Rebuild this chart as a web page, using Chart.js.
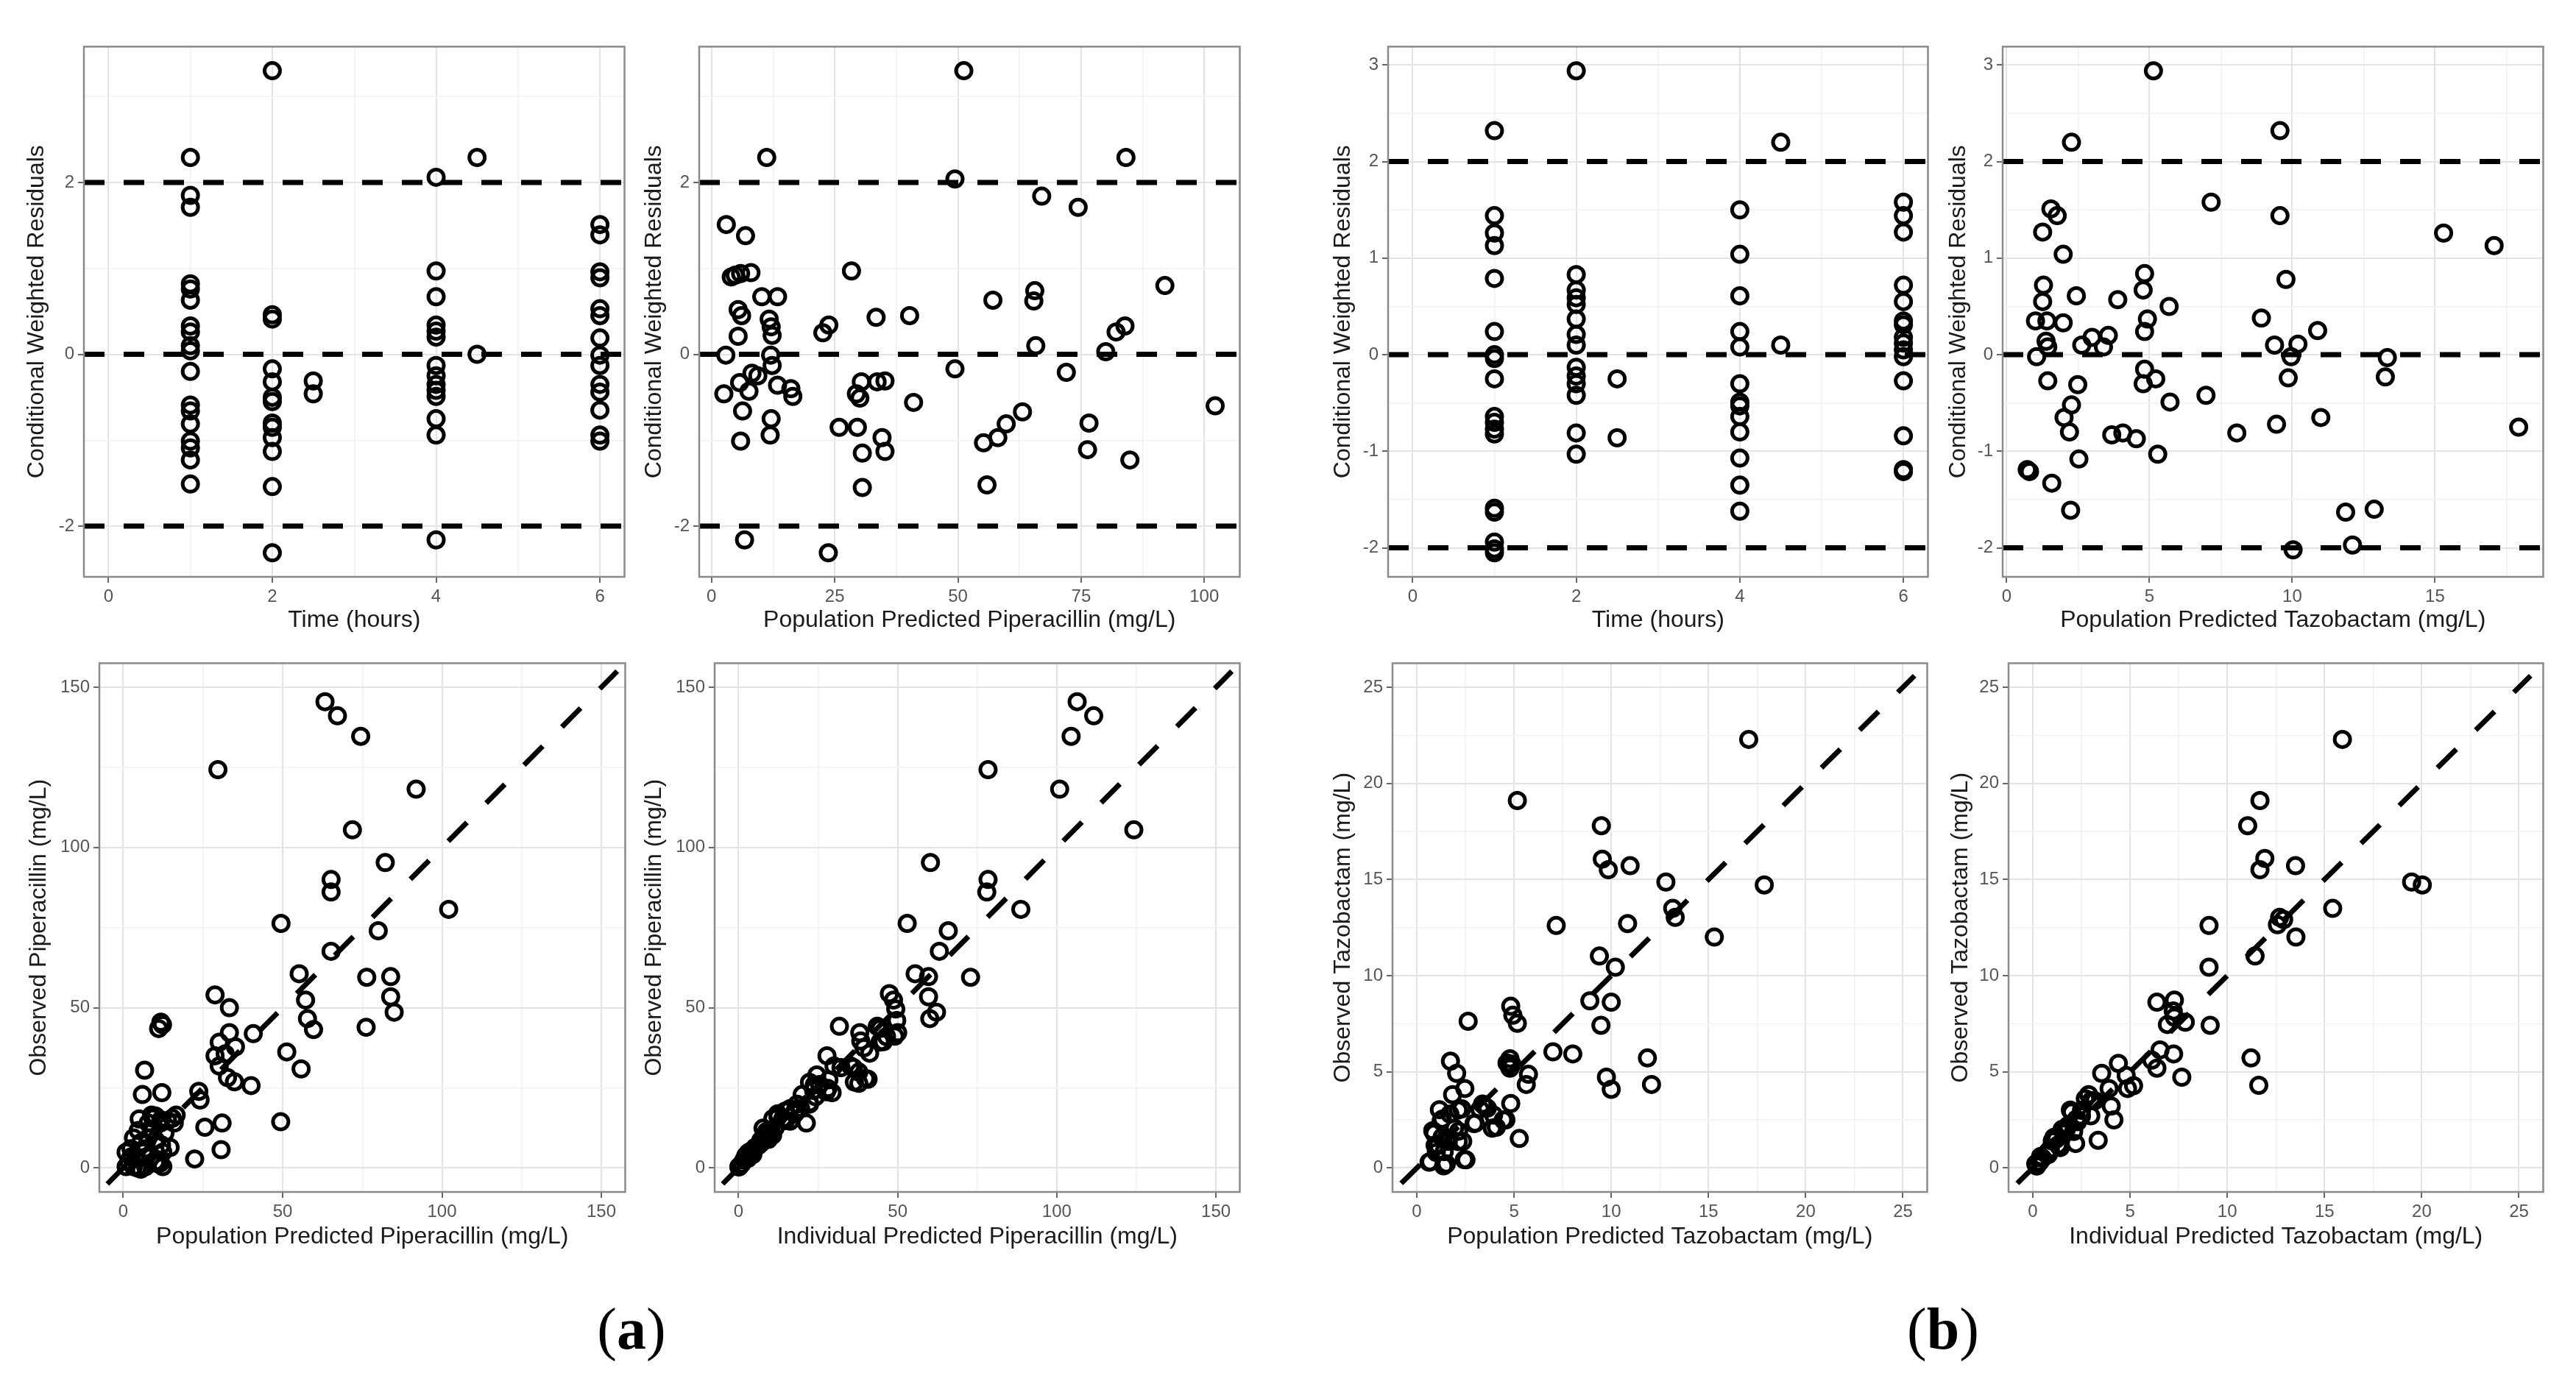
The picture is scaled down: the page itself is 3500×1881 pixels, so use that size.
<!DOCTYPE html>
<html lang="en">
<head>
<meta charset="UTF-8">
<title>Goodness-of-fit plots: piperacillin and tazobactam</title>
<script src="https://cdn.jsdelivr.net/npm/chart.js"></script>
<style>
  body { margin: 0; background: #fff; width: 3500px; height: 1881px; position: relative; overflow: hidden; }
  canvas { position: absolute; }
  .tag {
    position: absolute;
    font-family: "Liberation Serif", "Times New Roman", serif;
    font-size: 80px;
    line-height: 1;
    color: #000;
    transform: translate(-50%, -50%);
  }
</style>
</head>
<body>
<canvas id="p1"></canvas>
<canvas id="p2"></canvas>
<canvas id="p3"></canvas>
<canvas id="p4"></canvas>
<canvas id="p5"></canvas>
<canvas id="p6"></canvas>
<canvas id="p7"></canvas>
<canvas id="p8"></canvas>
<div class="tag" style="left:858px; top:1806px">(<b>a</b>)</div>
<div class="tag" style="left:2640px; top:1806px">(<b>b</b>)</div>

<script>
// ---- data ----

// (a) piperacillin: CWRES vs time
const pipTime = [1,1,1,1,1,1,1,1,1,1,1,1,1,1,1,1,1,1,
  2,2,2,2,2,2,2,2,2,2,2,2,2,
  2.5,2.5,
  4,4,4,4,4,4,4,4,4,4,4,4,4,4,
  4.5,4.5,
  6,6,6,6,6,6,6,6,6,6,6,6,6,6];
const pipTimeRes = [2.29,1.85,1.71,0.82,0.76,0.63,0.33,0.26,0.10,0.04,-0.20,-0.59,-0.66,-0.81,-1.01,-1.09,-1.23,-1.51,
  3.30,0.46,0.41,-0.17,-0.32,-0.50,-0.55,-0.80,-0.85,-0.97,-1.13,-1.54,-2.31,
  -0.31,-0.46,
  2.06,0.97,0.67,0.34,0.27,0.20,-0.13,-0.25,-0.35,-0.42,-0.49,-0.75,-0.94,-2.16,
  2.29,0.00,
  1.51,1.39,0.96,0.89,0.53,0.45,0.19,-0.01,-0.13,-0.35,-0.44,-0.65,-0.94,-1.01];

// (a) piperacillin: CWRES vs population prediction
const pipPred = [51.2,11.2,84.1,49.4,67.0,74.4,3.0,6.9,28.4,4.0,4.8,5.9,8.0,92.0,10.2,13.4,57.1,65.6,65.4,5.4,
  6.1,11.7,12.1,33.4,40.2,23.8,22.6,12.3,5.4,83.9,82.1,65.8,80.0,2.9,12.0,12.3,49.4,72.0,8.2,9.4,
  5.7,2.5,7.6,13.4,16.1,16.5,30.4,33.6,35.2,29.4,30.1,41.0,102.2,63.1,6.3,59.8,76.6,12.1,25.9,29.6,
  34.6,58.1,55.2,11.9,5.9,76.3,30.6,35.2,84.9,30.6,55.9,6.7,23.7];
const pipPredRes = [3.30,2.29,2.29,2.04,1.84,1.71,1.51,1.38,0.97,0.90,0.92,0.94,0.95,0.80,0.67,0.67,0.63,0.74,0.62,0.52,
  0.45,0.41,0.32,0.43,0.45,0.34,0.25,0.22,0.21,0.33,0.26,0.10,0.03,-0.01,-0.01,-0.13,-0.17,-0.21,-0.22,-0.25,
  -0.33,-0.46,-0.43,-0.36,-0.40,-0.49,-0.32,-0.32,-0.31,-0.46,-0.51,-0.56,-0.60,-0.67,-0.66,-0.81,-0.80,-0.75,-0.85,-0.85,
  -0.97,-0.97,-1.03,-0.94,-1.01,-1.11,-1.15,-1.13,-1.23,-1.55,-1.52,-2.16,-2.31];

// (a) piperacillin: observed vs population prediction
const pipPopX = [63.3,67.2,74.5,29.7,91.9,71.9,82.2,65.2,65.2,102.1,49.5,80.0,65.2,55.2,76.4,83.9,57.2,83.9,85.0,57.8,
  59.7,76.2,28.8,33.3,11.8,12.3,11.1,33.3,40.8,30.1,35.2,51.3,28.8,32.0,30.1,55.8,6.7,32.7,34.9,40.1,
  6.0,12.1,23.7,24.1,8.9,16.6,5.0,11.8,16.0,49.4,31.0,25.6,30.7,22.4,10.1,15.4,11.6,2.4,5.5,7.8,
  12.0,11.6,5.5,1.7,12.4,8.6,4.0,7.0,3.2,9.3,14.7,0.9,10.8,4.4,
  0.9,3.2,7.0,10.1,4.7,7.8,13.1,2.4,10.1,9.3,13.9,6.3,12.4];
const pipPopObs = [145.5,141.1,134.7,124.3,118.2,105.5,95.3,90.0,86.1,80.7,76.3,74.0,67.6,60.6,59.5,59.7,52.4,53.4,48.6,46.6,
  43.2,43.9,54.0,50.0,45.5,44.7,43.5,42.2,41.9,39.2,37.8,36.2,35.0,35.6,31.8,30.9,30.5,28.2,26.9,25.7,
  22.9,23.5,23.9,21.2,16.5,16.5,15.3,15.0,14.0,14.4,14.0,12.7,5.7,2.8,16.2,15.5,14.0,6.0,7.9,9.4,
  7.2,1.5,-0.4,1.9,4.9,3.4,3.4,6.0,9.4,11.7,6.4,0.4,1.3,0.0,
  4.9,0.4,0.4,1.9,11.7,14.0,10.9,3.4,8.7,15.5,14.7,4.9,0.4];

// (a) piperacillin: observed vs individual prediction
const pipIndX = [106.4,111.6,104.5,78.4,100.9,124.2,60.3,78.4,78.0,88.7,53.0,65.9,63.1,55.5,72.9,59.7,59.7,62.2,60.1,47.4,
  48.7,49.4,49.7,50.0,31.7,38.1,43.6,45.5,39.4,41.2,27.8,30.0,35.2,37.8,40.7,37.8,28.1,23.6,24.2,29.4,
  22.3,17.8,12.4,13.9,21.3,16.2,8.8,10.7,6.2,3.6,1.7,0.4,5.2,7.5,2.3,9.4,
  1.0,3.0,4.5,6.8,11.5,14.8,19.5,25.5,44.5,46.5,
  0.1,2.4,4.7,7.7,7.0,10.0,12.3,16.2,17.7,22.3,23.8,27.6,28.4,32.2,36.1,36.4,39.9,38.4,44.5,49.1,
  3.1,6.2,8.5,10.8,14.6,18.4,20.0,22.3,24.6];
const pipIndObs = [145.5,141.1,134.7,124.3,118.2,105.5,95.3,90.0,86.1,80.7,76.3,74.0,67.6,60.6,59.5,59.7,53.4,48.6,46.6,54.4,
  52.4,49.6,46.0,42.2,44.2,42.2,44.2,39.4,37.5,35.8,35.0,31.8,31.8,29.9,27.7,26.4,24.8,24.2,22.2,23.5,
  20.3,17.8,15.9,15.3,14.0,14.6,11.4,10.2,7.0,5.1,2.5,0.6,6.4,8.3,3.8,8.9,
  1.3,3.0,4.2,7.5,12.5,14.8,18.6,26.0,43.5,41.0,
  0.3,3.3,5.6,12.4,8.6,10.9,16.9,18.5,16.9,19.9,25.9,23.8,27.5,31.3,31.3,26.8,27.9,39.6,39.3,41.1,
  4.8,7.1,10.1,15.4,17.7,19.9,22.9,26.7,29.0];

// (b) tazobactam: CWRES vs time
const tazTime = [1,1,1,1,1,1,1,1,1,1,1,1,1,1,1,1,1,1,
  2,2,2,2,2,2,2,2,2,2,2,2,2,2,
  2.5,2.5,
  4,4,4,4,4,4,4,4,4,4,4,4,4,
  4.5,4.5,
  6,6,6,6,6,6,6,6,6,6,6,6,6,6,6];
const tazTimeRes = [2.32,1.44,1.26,1.13,0.79,0.24,0.00,-0.04,-0.25,-0.64,-0.70,-0.77,-0.82,-1.59,-1.63,-1.94,-2.01,-2.05,
  2.94,0.83,0.67,0.59,0.52,0.37,0.21,0.10,-0.13,-0.22,-0.30,-0.42,-0.81,-1.03,
  -0.25,-0.86,
  1.50,1.04,0.61,0.24,0.08,-0.30,-0.49,-0.53,-0.64,-0.80,-1.07,-1.35,-1.62,
  2.20,0.10,
  1.58,1.44,1.27,0.72,0.55,0.35,0.31,0.18,0.12,0.05,-0.02,-0.27,-0.84,-1.19,-1.21];

// (b) tazobactam: CWRES vs population prediction
const tazPred = [5.14,2.27,9.57,7.16,9.57,1.55,1.77,1.26,1.98,15.3,17.07,9.78,1.29,1.26,2.44,3.89,4.83,4.78,5.69,4.93,
  4.83,8.92,1.01,1.41,1.98,1.38,1.44,2.99,3.56,2.63,3.39,10.89,9.38,10.2,9.96,1.05,13.33,13.26,9.86,1.44,
  2.49,4.83,4.78,5.22,5.72,6.98,2.27,2.01,2.20,3.68,4.07,4.54,8.06,9.45,11.0,17.93,5.29,2.53,0.72,0.80,
  1.58,2.24,11.87,12.87,12.11,10.03];
const tazPredRes = [2.94,2.20,2.32,1.58,1.44,1.51,1.44,1.27,1.04,1.26,1.13,0.78,0.72,0.55,0.61,0.57,0.84,0.67,0.50,0.37,
  0.24,0.38,0.35,0.35,0.33,0.14,0.08,0.18,0.20,0.10,0.08,0.25,0.10,0.11,-0.02,-0.02,-0.03,-0.23,-0.24,-0.27,
  -0.31,-0.15,-0.30,-0.25,-0.49,-0.42,-0.52,-0.65,-0.80,-0.83,-0.81,-0.87,-0.81,-0.72,-0.65,-0.75,-1.03,-1.08,-1.19,-1.21,
  -1.33,-1.61,-1.63,-1.60,-1.97,-2.02];

// (b) tazobactam: observed vs population prediction
const tazPopX = [17.07,5.17,9.49,9.54,9.85,10.97,12.81,17.87,13.16,13.29,7.17,10.84,15.30,9.39,10.21,8.90,10.0,9.47,4.83,4.94,
  5.17,2.64,7.0,8.02,11.86,4.79,4.89,4.79,5.74,5.63,9.75,10.0,12.07,1.73,2.05,2.47,1.84,2.32,3.42,3.63,
  4.83,3.95,4.58,4.09,3.0,5.27,1.16,1.31,0.89,2.15,1.62,2.36,1.10,0.68,1.52,2.53,1.41,
  2.13,1.25,1.94,0.82,2.13,0.94,1.57,0.63,1.38,2.44,2.94,3.38,3.55,3.25,4.45,3.88,4.64,4.75,1.3,1.7,1.0];
const tazPopObs = [22.29,19.11,17.80,16.06,15.51,15.72,14.87,14.72,13.50,13.03,12.61,12.71,12.01,11.02,10.44,8.69,8.62,7.42,8.41,7.94,
  7.52,7.63,6.04,5.93,5.72,5.68,5.40,5.19,4.87,4.34,4.72,4.09,4.34,5.55,4.92,4.13,3.81,3.07,3.28,3.11,
  3.35,2.75,2.50,2.12,2.33,1.53,3.03,2.54,1.80,1.91,1.38,1.38,1.17,0.32,0.21,0.42,0.85,
  3.01,2.44,2.07,1.94,1.37,1.18,1.56,0.30,0.11,0.43,2.31,3.32,3.15,3.05,2.50,2.07,5.46,5.30,1.60,2.80,0.80];

// (b) tazobactam: observed vs individual prediction
const tazIndX = [15.92,11.68,11.05,11.93,11.68,13.51,19.48,20.03,15.42,12.69,12.9,12.58,9.06,13.53,11.43,9.06,6.38,7.28,7.22,7.28,
  7.84,6.92,9.12,6.54,7.24,6.12,6.38,11.22,11.62,7.66,4.40,3.54,4.80,4.87,5.18,3.92,2.87,4.03,3.19,4.17,
  2.98,1.93,2.24,1.72,2.20,3.36,1.09,1.41,0.78,0.36,0.15,
  0.5,0.9,1.2,1.6,2.5,2.7,
  0.2,0.4,0.8,1.0,1.3,1.5,1.8,2.0,2.3,2.5,3.0,2.1];
const tazIndObs = [22.29,19.11,17.80,16.10,15.51,15.72,14.87,14.72,13.50,13.03,12.92,12.65,12.61,12.01,11.02,10.44,8.62,8.73,8.16,7.84,
  7.58,7.46,7.42,6.14,5.93,5.61,5.19,5.72,4.30,4.72,5.44,4.92,4.81,4.13,4.28,4.13,3.81,3.22,3.50,2.50,
  2.71,3.01,2.54,2.01,1.27,1.44,1.59,1.06,0.85,0.32,0.21,
  0.5,1.0,1.5,1.8,2.7,3.6,
  0.1,0.6,0.7,1.4,1.2,2.0,2.2,2.9,2.4,3.0,3.5,1.9];

// reference lines
const cwresRefs = [-2, 0, 2];
const identityPip = [-5, 155];
const identityTaz = [-0.8, 25.6];

// tick values (major labelled, minor only as grid)
const timeMajor = [0, 2, 4, 6], timeMinor = [1, 3, 5];
const resMajorA = [-2, 0, 2], resMinorA = [-1, 1, 3];
const resMajorB = [-2, -1, 0, 1, 2, 3], resMinorB = [-1.5, -0.5, 0.5, 1.5, 2.5];
const pipPredMajor = [0, 25, 50, 75, 100], pipPredMinor = [12.5, 37.5, 62.5, 87.5];
const tazPredMajor = [0, 5, 10, 15], tazPredMinor = [2.5, 7.5, 12.5, 17.5];
const pipMajor = [0, 50, 100, 150], pipMinor = [25, 75, 125];
const tazMajor = [0, 5, 10, 15, 20, 25], tazMinor = [2.5, 7.5, 12.5, 17.5, 22.5];

// ---- drawing ----
const FONT = "'Liberation Sans', Arial, sans-serif";
const PAD_TOP = 12, PAD_RIGHT = 12;

// grey panel border like theme_bw
const framePlugin = {
  id: 'frame',
  afterDraw(chart) {
    const a = chart.chartArea, ctx = chart.ctx;
    ctx.save();
    ctx.strokeStyle = '#8a8a8a';
    ctx.lineWidth = 2.5;
    ctx.strokeRect(a.left, a.top, a.right - a.left, a.bottom - a.top);
    ctx.restore();
  }
};

function pairs(xs, ys) {
  return xs.map((x, i) => ({ x: x, y: ys[i] }));
}

function axis(dir, min, max, major, minor, title, size) {
  const minorSet = new Set(minor);
  const all = major.concat(minor).sort((a, b) => a - b);
  return {
    type: 'linear',
    min: min,
    max: max,
    afterBuildTicks: s => { s.ticks = all.map(v => ({ value: v })); },
    afterFit: s => { if (dir === 'x') s.height = size; else s.width = size; },
    ticks: {
      autoSkip: false,
      maxRotation: 0,
      padding: 5,
      color: '#555',
      font: { family: FONT, size: 24 },
      callback: v => minorSet.has(v) ? '' : String(v)
    },
    grid: {
      color: c => minorSet.has(c.tick && c.tick.value) ? '#f1f1f1' : '#e4e4e4',
      lineWidth: c => minorSet.has(c.tick && c.tick.value) ? 1.5 : 2,
      tickLength: 8,
      tickWidth: 2,
      tickColor: c => minorSet.has(c.tick && c.tick.value) ? 'rgba(0,0,0,0)' : '#666'
    },
    border: { display: false },
    title: {
      display: true,
      text: title,
      color: '#1a1a1a',
      font: { family: FONT, size: 32 },
      padding: dir === 'x' ? { top: 0, bottom: 4 } : { top: 2, bottom: 0 }
    }
  };
}

function dashed(points, dash) {
  return {
    type: 'line',
    data: points,
    borderColor: '#000',
    borderWidth: 7,
    borderDash: dash,
    pointRadius: 0,
    fill: false,
    order: 0
  };
}

function makePanel(id, p) {
  const canvas = document.getElementById(id);
  const [l, t, r, b] = p.box;
  canvas.width = p.yw + (r - l) + PAD_RIGHT;
  canvas.height = PAD_TOP + (b - t) + p.xh;
  canvas.style.left = (l - p.yw) + 'px';
  canvas.style.top = (t - PAD_TOP) + 'px';

  const datasets = p.lines.concat([{
    type: 'scatter',
    data: pairs(p.xs, p.ys),
    backgroundColor: 'rgba(0,0,0,0)',
    borderColor: '#000',
    borderWidth: 5,
    pointRadius: 10.5,
    order: 1
  }]);

  new Chart(canvas.getContext('2d'), {
    type: 'scatter',
    data: { datasets: datasets },
    options: {
      responsive: false,
      devicePixelRatio: 1,
      animation: false,
      layout: { padding: { top: PAD_TOP, right: PAD_RIGHT, left: 0, bottom: 0 } },
      plugins: { legend: { display: false }, tooltip: { enabled: false } },
      scales: {
        x: axis('x', p.x[0], p.x[1], p.x[2], p.x[3], p.xt, p.xh),
        y: axis('y', p.y[0], p.y[1], p.y[2], p.y[3], p.yt, p.yw)
      }
    },
    plugins: [framePlugin]
  });
}

function hlines(x0, x1) {
  return cwresRefs.map(v => dashed([{ x: x0, y: v }, { x: x1, y: v }], [28, 26]));
}
function diag(ends) {
  return [dashed([{ x: ends[0], y: ends[0] }, { x: ends[1], y: ends[1] }], [36, 37])];
}

const CWRES = 'Conditional Weighted Residuals';

makePanel('p1', { box: [114, 56, 852, 784], yw: 85, xh: 82,
  x: [-0.3, 6.3, timeMajor, timeMinor], y: [-2.59, 3.58, resMajorA, resMinorA],
  xt: 'Time (hours)', yt: CWRES, xs: pipTime, ys: pipTimeRes, lines: hlines(-0.3, 6.3) });

makePanel('p2', { box: [950, 56, 1688, 784], yw: 82, xh: 82,
  x: [-2.5, 107.2, pipPredMajor, pipPredMinor], y: [-2.59, 3.58, resMajorA, resMinorA],
  xt: 'Population Predicted Piperacillin (mg/L)', yt: CWRES, xs: pipPred, ys: pipPredRes, lines: hlines(-2.5, 107.2) });

makePanel('p3', { box: [1886, 56, 2623, 784], yw: 82, xh: 82,
  x: [-0.3, 6.3, timeMajor, timeMinor], y: [-2.3, 3.19, resMajorB, resMinorB],
  xt: 'Time (hours)', yt: CWRES, xs: tazTime, ys: tazTimeRes, lines: hlines(-0.3, 6.3) });

makePanel('p4', { box: [2721, 56, 3459, 784], yw: 81, xh: 82,
  x: [-0.14, 18.79, tazPredMajor, tazPredMinor], y: [-2.3, 3.19, resMajorB, resMinorB],
  xt: 'Population Predicted Tazobactam (mg/L)', yt: CWRES, xs: tazPred, ys: tazPredRes, lines: hlines(-0.14, 18.79) });

makePanel('p5', { box: [135, 894, 853, 1620], yw: 103, xh: 84,
  x: [-7.5, 157.5, pipMajor, pipMinor], y: [-7.5, 157.5, pipMajor, pipMinor],
  xt: 'Population Predicted Piperacillin (mg/L)', yt: 'Observed Piperacillin (mg/L)',
  xs: pipPopX, ys: pipPopObs, lines: diag(identityPip) });

makePanel('p6', { box: [971, 894, 1688, 1620], yw: 103, xh: 84,
  x: [-7.5, 157.5, pipMajor, pipMinor], y: [-7.5, 157.5, pipMajor, pipMinor],
  xt: 'Individual Predicted Piperacillin (mg/L)', yt: 'Observed Piperacillin (mg/L)',
  xs: pipIndX, ys: pipIndObs, lines: diag(identityPip) });

makePanel('p7', { box: [1892, 894, 2622, 1620], yw: 88, xh: 84,
  x: [-1.25, 26.25, tazMajor, tazMinor], y: [-1.25, 26.25, tazMajor, tazMinor],
  xt: 'Population Predicted Tazobactam (mg/L)', yt: 'Observed Tazobactam (mg/L)',
  xs: tazPopX, ys: tazPopObs, lines: diag(identityTaz) });

makePanel('p8', { box: [2729, 894, 3459, 1620], yw: 86, xh: 84,
  x: [-1.25, 26.25, tazMajor, tazMinor], y: [-1.25, 26.25, tazMajor, tazMinor],
  xt: 'Individual Predicted Tazobactam (mg/L)', yt: 'Observed Tazobactam (mg/L)',
  xs: tazIndX, ys: tazIndObs, lines: diag(identityTaz) });
</script>
</body>
</html>
